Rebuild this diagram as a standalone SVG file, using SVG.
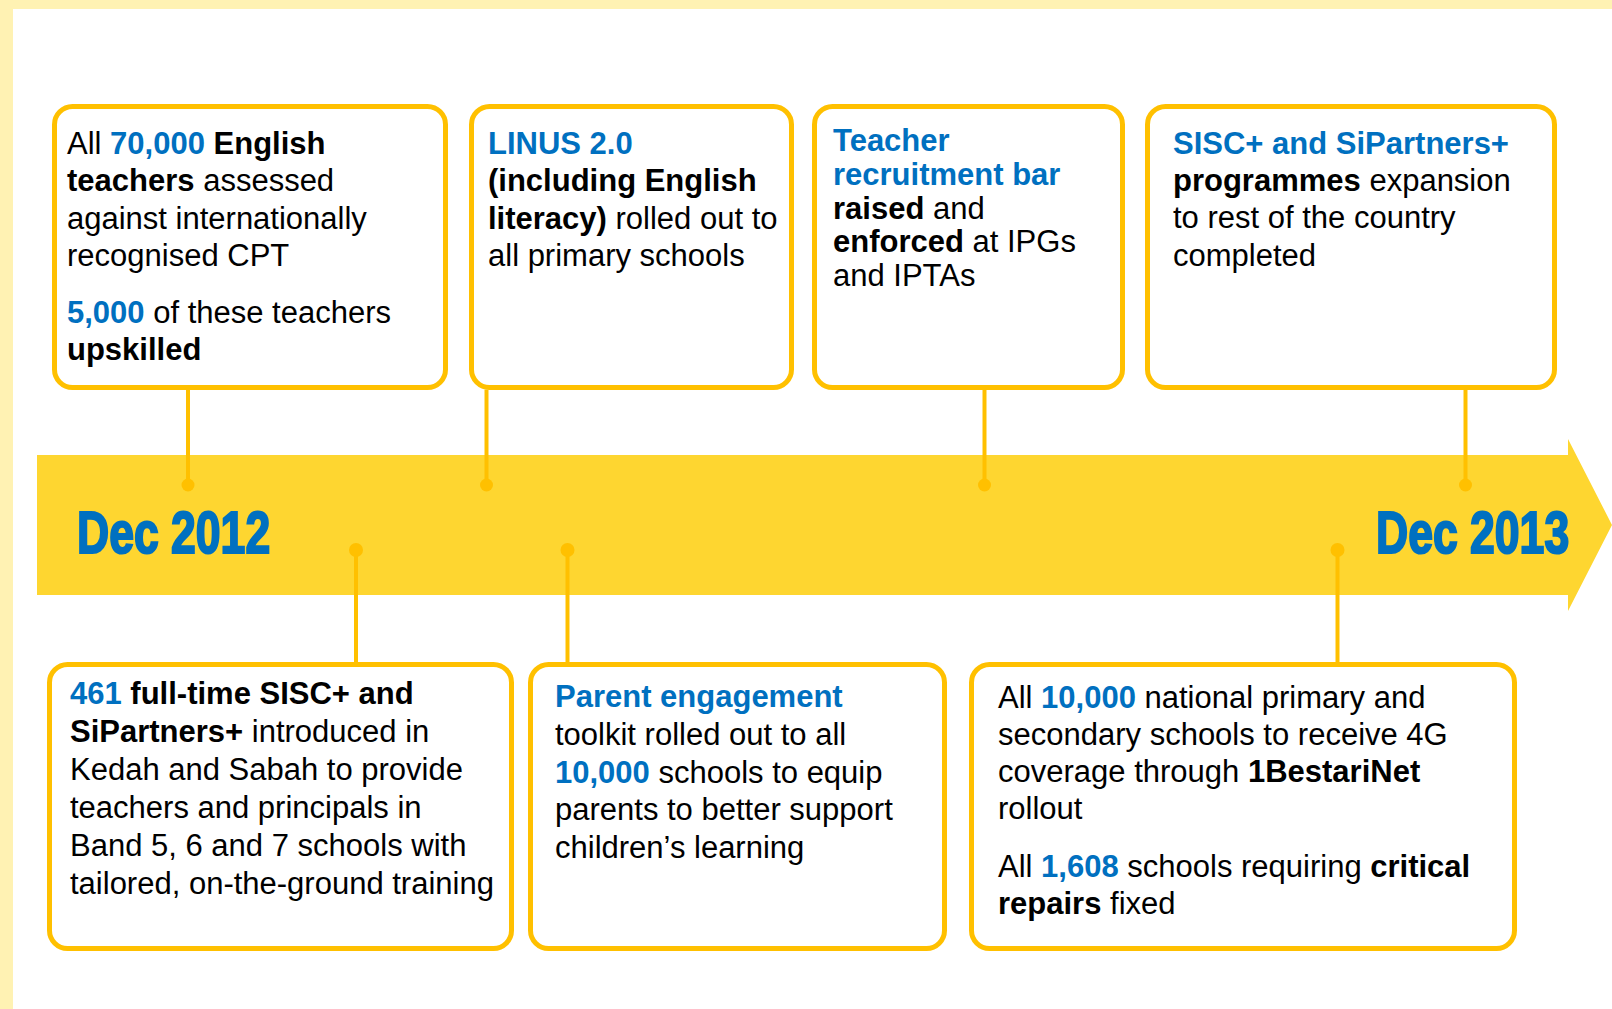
<svg xmlns="http://www.w3.org/2000/svg" width="1612" height="1009" viewBox="0 0 1612 1009">
<style>
.box{fill:#FFFFFF;stroke:#FFC000;stroke-width:5}
.t{font-family:"Liberation Sans",Arial,sans-serif;font-size:31px;fill:#000000}
.b{font-weight:bold}
.bl{font-weight:bold;fill:#0070C0}
.conn{stroke:#FFC000;stroke-width:4;fill:none}
.dot{fill:#FFC000}
.date{font-family:"Liberation Sans",Arial,sans-serif;font-weight:bold;font-size:59px;fill:#0070C0;stroke:#0070C0;stroke-width:2.2}
</style>
<rect x="0" y="0" width="1612" height="1009" fill="#FFFFFF"/>
<rect x="0" y="0" width="1612" height="9" fill="#FFF2B3"/>
<rect x="0" y="0" width="13" height="1009" fill="#FFF2B3"/>

<g id="timeline">
<polygon points="37,455 1568,455 1568,439 1612,525 1568,611 1568,595 37,595" fill="#FED630"/>
<text class="date" transform="translate(77,553) scale(0.755,1)">Dec 2012</text>
<text class="date" transform="translate(1376,553) scale(0.755,1)">Dec 2013</text>
</g>

<g id="connectors">
<line class="conn" x1="188" y1="390" x2="188" y2="485"/>
<circle class="dot" cx="188" cy="485" r="6.5"/>
<line class="conn" x1="486.5" y1="390" x2="486.5" y2="485"/>
<circle class="dot" cx="486.5" cy="485" r="6.5"/>
<line class="conn" x1="984.5" y1="390" x2="984.5" y2="485"/>
<circle class="dot" cx="984.5" cy="485" r="6.5"/>
<line class="conn" x1="1465.5" y1="390" x2="1465.5" y2="485"/>
<circle class="dot" cx="1465.5" cy="485" r="6.5"/>
<line class="conn" x1="356" y1="550" x2="356" y2="663"/>
<circle class="dot" cx="356" cy="550" r="7"/>
<line class="conn" x1="567.5" y1="550" x2="567.5" y2="663"/>
<circle class="dot" cx="567.5" cy="550" r="7"/>
<line class="conn" x1="1337.5" y1="550" x2="1337.5" y2="663"/>
<circle class="dot" cx="1337.5" cy="550" r="7"/>
</g>

<g id="node1">
<rect class="box" x="54.5" y="106.5" width="391" height="281" rx="18"/>
<text class="t" x="67" y="154">All <tspan class="bl">70,000</tspan> <tspan class="b">English</tspan></text>
<text class="t" x="67" y="191"><tspan class="b">teachers</tspan> assessed</text>
<text class="t" x="67" y="229">against internationally</text>
<text class="t" x="67" y="266">recognised CPT</text>
<text class="t" x="67" y="323"><tspan class="bl">5,000</tspan> of these teachers</text>
<text class="t b" x="67" y="360">upskilled</text>
</g>

<g id="node2">
<rect class="box" x="471.5" y="106.5" width="320" height="281" rx="18"/>
<text class="t bl" x="488" y="154">LINUS 2.0</text>
<text class="t b" x="488" y="191">(including English</text>
<text class="t" x="488" y="229"><tspan class="b">literacy)</tspan> rolled out to</text>
<text class="t" x="488" y="266">all primary schools</text>
</g>

<g id="node3">
<rect class="box" x="814.5" y="106.5" width="308" height="281" rx="18"/>
<text class="t bl" x="833" y="151">Teacher</text>
<text class="t bl" x="833" y="184.5">recruitment bar</text>
<text class="t" x="833" y="219"><tspan class="b">raised</tspan> and</text>
<text class="t" x="833" y="252"><tspan class="b">enforced</tspan> at IPGs</text>
<text class="t" x="833" y="286">and IPTAs</text>
</g>

<g id="node4">
<rect class="box" x="1147.5" y="106.5" width="407" height="281" rx="18"/>
<text class="t bl" x="1173" y="154">SISC+ and SiPartners+</text>
<text class="t" x="1173" y="191"><tspan class="b">programmes</tspan> expansion</text>
<text class="t" x="1173" y="228">to rest of the country</text>
<text class="t" x="1173" y="266">completed</text>
</g>

<g id="node5">
<rect class="box" x="49.5" y="664.5" width="462" height="284" rx="18"/>
<text class="t" x="70" y="704"><tspan class="bl">461</tspan><tspan class="b"> full-time SISC+ and</tspan></text>
<text class="t" x="70" y="742"><tspan class="b">SiPartners+</tspan> introduced in</text>
<text class="t" x="70" y="780">Kedah and Sabah to provide</text>
<text class="t" x="70" y="818">teachers and principals in</text>
<text class="t" x="70" y="856">Band 5, 6 and 7 schools with</text>
<text class="t" x="70" y="894">tailored, on-the-ground training</text>
</g>

<g id="node6">
<rect class="box" x="530.5" y="664.5" width="414" height="284" rx="18"/>
<text class="t bl" x="555" y="707">Parent engagement</text>
<text class="t" x="555" y="745">toolkit rolled out to all</text>
<text class="t" x="555" y="783"><tspan class="bl">10,000</tspan> schools to equip</text>
<text class="t" x="555" y="820">parents to better support</text>
<text class="t" x="555" y="858">children’s learning</text>
</g>

<g id="node7">
<rect class="box" x="971.5" y="664.5" width="543" height="284" rx="18"/>
<text class="t" x="998" y="708">All <tspan class="bl">10,000</tspan> national primary and</text>
<text class="t" x="998" y="745">secondary schools to receive 4G</text>
<text class="t" x="998" y="782">coverage through <tspan class="b">1BestariNet</tspan></text>
<text class="t" x="998" y="819">rollout</text>
<text class="t" x="998" y="877">All <tspan class="bl">1,608</tspan> schools requiring <tspan class="b">critical</tspan></text>
<text class="t" x="998" y="914"><tspan class="b">repairs</tspan> fixed</text>
</g>
</svg>
